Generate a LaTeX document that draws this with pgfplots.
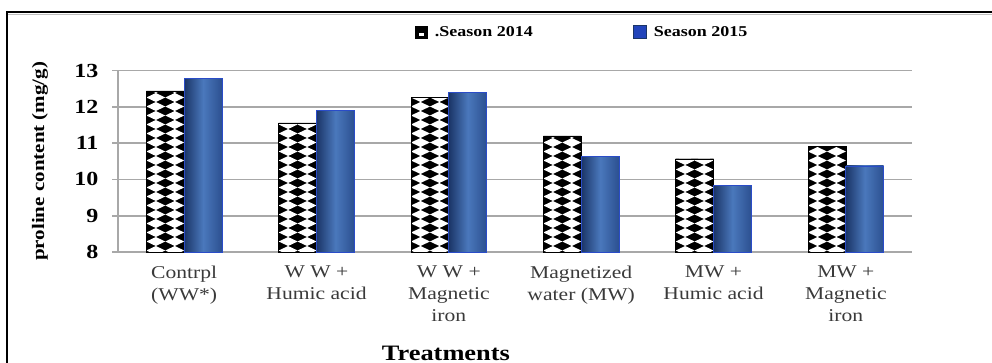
\documentclass[border=0pt]{standalone}
\usepackage{fontspec}
\setmainfont{Liberation Serif}[FakeStretch=1.2]
\usepackage{pgfplots}
\pgfplotsset{compat=1.18}
\usetikzlibrary{patterns.meta}
\definecolor{gridc}{HTML}{A8A8A8}
\definecolor{tickc}{HTML}{3A3A3A}
\definecolor{bdark}{HTML}{1B3567}
\definecolor{bmid}{HTML}{4A78BC}
\definecolor{bright}{HTML}{2C5090}
\definecolor{bedge}{HTML}{2A4CC8}
\definecolor{blegend}{HTML}{2244BB}
\pgfdeclarehorizontalshading{bluebar}{100bp}{color(0bp)=(bdark); color(25bp)=(bdark); color(50bp)=(bmid); color(75bp)=(bright); color(100bp)=(bright)}
\pgfdeclarepattern{
  name=wdiam, type=uncolored,
  bottom left={\pgfpoint{-4.87pt}{0pt}},
  top right={\pgfpoint{14.03pt}{9pt}},
  tile size={\pgfpoint{18.905pt}{9pt}},
  code={
    \pgfpathmoveto{\pgfpoint{4.58pt}{0pt}}
    \pgfpathlineto{\pgfpoint{14.03pt}{4.5pt}}
    \pgfpathlineto{\pgfpoint{4.58pt}{9pt}}
    \pgfpathlineto{\pgfpoint{-4.87pt}{4.5pt}}
    \pgfpathclose
    \pgfusepath{fill}
  }
}
\pgfplotstableread{
x y2014
0 12.44
1 11.56
2 12.26
3 11.20
4 10.57
5 10.92
}\datafourteen
\pgfplotsset{
  b15/.style={ybar, bar width=37.81pt, bar shift=18.905pt, shade, shading=bluebar, draw=bedge, line width=0.8pt},
}
\begin{document}
\begin{tikzpicture}
\useasboundingbox (0pt,0pt) rectangle (992pt,-363pt);
\draw[black!25, line width=1.5pt] (8pt,-14.5pt) -- (992pt,-14.5pt);
\draw[black, line width=2pt] (7pt,-363pt) -- (7pt,-12pt) -- (992pt,-12pt);
\begin{axis}[
  at={(118pt,-252pt)}, anchor=south west,
  scale only axis, width=794pt, height=181.5pt,
  xmin=-0.5, xmax=5.5, ymin=8, ymax=13,
  ytick={8,9,10,11,12,13},
  xtick={0,1,2,3,4,5},
  xticklabels={{Contrpl\\(WW*)},{W W +\\Humic acid},{W W +\\Magnetic\\iron},{Magnetized\\water (MW)},{MW +\\Humic acid},{MW +\\Magnetic\\iron}},
  /pgf/number format/assume math mode=true,
  ymajorgrids,
  grid style={gridc, line width=1.6pt},
  axis x line*=bottom, axis y line*=left,
  x axis line style={gridc, line width=1.6pt},
  y axis line style={gridc, line width=1.2pt},
  major x tick style={draw=none},
  ytick style={gridc, line width=1.6pt},
  tick align=outside, major tick length=6pt,
  yticklabel style={font=\fontsize{20}{20}\bfseries\selectfont, text=black, xshift=-10pt},
  xticklabel style={font=\fontsize{18}{22}\selectfont, align=center, text=tickc, yshift=-4pt},
  ylabel={proline content (mg/g)},
  ylabel style={at={(rel axis cs:-0.0982,0.5)}, anchor=center, font=\fontsize{17.5}{18}\bfseries\selectfont},
  xlabel={Treatments},
  xlabel style={at={(rel axis cs:0.413,0)}, anchor=base, yshift=-108pt, font=\fontsize{22}{22}\bfseries\selectfont},
  legend columns=2,
  legend style={at={(rel axis cs:0.37,1.212)}, anchor=west, draw=none, fill=none,
    font=\fontsize{15}{15}\bfseries\selectfont,
    /tikz/every odd column/.append style={column sep=5pt},
    /tikz/every even column/.append style={column sep=98pt}},
]
\addplot[ybar, bar width=37.81pt, bar shift=-18.905pt, fill=black, draw=black, postaction={pattern=wdiam, pattern color=white},
  legend image code/.code={%
    \pgfsetfillcolor{black}\pgfpathrectangle{\pgfpoint{0pt}{-6.5pt}}{\pgfpoint{13pt}{13pt}}\pgfusepath{fill}%
    \pgfsetfillcolor{white}\pgfpathrectangle{\pgfpoint{4pt}{-3.5pt}}{\pgfpoint{5pt}{3pt}}\pgfusepath{fill}}]
  table[x=x, y=y2014] {\datafourteen};
\addlegendentry{.Season 2014}
\addplot[b15,
  legend image code/.code={%
    \pgfsetfillcolor{blegend}\pgfsetstrokecolor{bdark}\pgfsetlinewidth{0.8pt}%
    \pgfpathrectangle{\pgfpoint{0pt}{-6.5pt}}{\pgfpoint{13pt}{13pt}}\pgfusepath{fill,stroke}}]
  coordinates {(0,12.78)};
\addlegendentry{Season 2015}
\addplot[b15, forget plot] coordinates {(1,11.91)};
\addplot[b15, forget plot] coordinates {(2,12.39)};
\addplot[b15, forget plot] coordinates {(3,10.64)};
\addplot[b15, forget plot] coordinates {(4,9.84)};
\addplot[b15, forget plot] coordinates {(5,10.37)};
\end{axis}
\end{tikzpicture}
\end{document}
